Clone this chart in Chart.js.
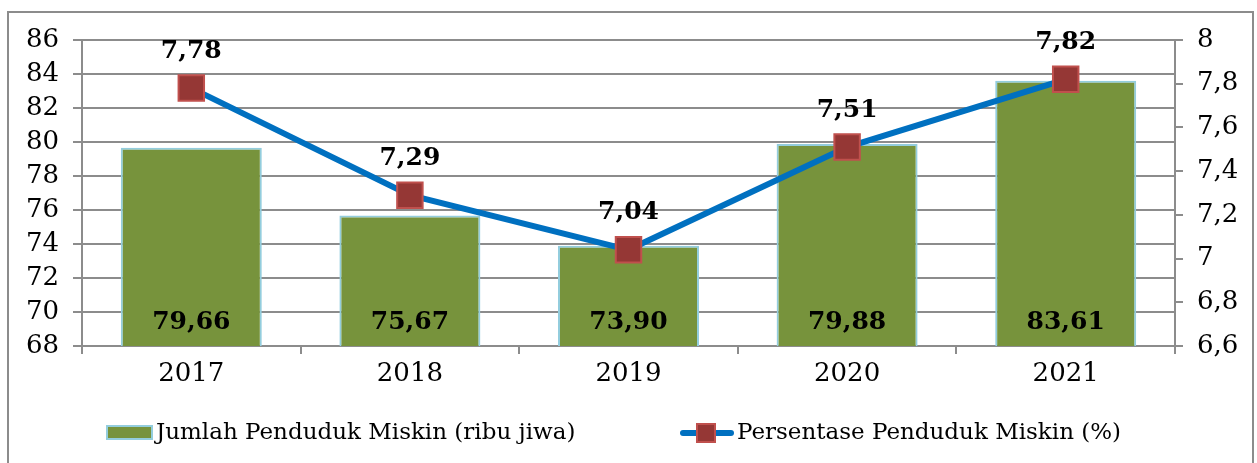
<!DOCTYPE html>
<html>
<head>
<meta charset="utf-8">
<script src="https://cdn.jsdelivr.net/npm/chart.js@4.4.1/dist/chart.umd.min.js"></script>
<style>
  html, body { margin: 0; padding: 0; background: #fff; overflow: hidden; }
  #wrap { position: relative; width: 1257px; height: 463px; }
  #frame { position: absolute; left: 7px; top: 11px; width: 1247px; height: 470px; border: 2px solid #8c8c8c; box-sizing: border-box; pointer-events: none; }
</style>
</head>
<body>
<div id="wrap">
  <canvas id="chart" width="1257" height="463"></canvas>
  <div id="frame"></div>
</div>
<script>
var years = ["2017", "2018", "2019", "2020", "2021"];
var jumlahMiskin = [79.66, 75.67, 73.90, 79.88, 83.61];
var persenMiskin = [7.78, 7.29, 7.04, 7.51, 7.82];
var leftTicks = [68, 70, 72, 74, 76, 78, 80, 82, 84, 86];
var rightTicks = [6.6, 6.8, 7, 7.2, 7.4, 7.6, 7.8, 8];

var FONT = "'DejaVu Serif', serif";

function koma(v, d) {
	return (d == null ? String(v) : v.toFixed(d)).replace(".", ",");
}

// labels on bars and points, plus the legend at the bottom
var labelPlugin = {
	id: "labelPlugin",
	afterDatasetsDraw: function (chart) {
		var ctx = chart.ctx;
		ctx.save();
		ctx.fillStyle = "#000";
		ctx.font = "bold 25px " + FONT;
		ctx.textAlign = "center";
		ctx.textBaseline = "middle";

		var bars = chart.getDatasetMeta(0).data;
		bars.forEach(function (el, i) {
			ctx.fillText(koma(jumlahMiskin[i], 2), el.x, 322);
		});

		var pts = chart.getDatasetMeta(1).data;
		pts.forEach(function (el, i) {
			ctx.fillText(koma(persenMiskin[i], 2), el.x, el.y - 37);
		});
		ctx.restore();
	},
	afterDraw: function (chart) {
		var ctx = chart.ctx;
		var ds = chart.data.datasets;
		ctx.save();
		ctx.font = "23px " + FONT;
		ctx.textBaseline = "middle";
		ctx.fillStyle = "#000";
		var y = 433;

		// bar legend
		ctx.fillStyle = ds[0].backgroundColor;
		ctx.fillRect(107, 426, 45, 13);
		ctx.strokeStyle = ds[0].borderColor;
		ctx.lineWidth = 2;
		ctx.strokeRect(107, 426, 45, 13);
		ctx.fillStyle = "#000";
		ctx.fillText(ds[0].label, 156, y);

		// line legend
		ctx.strokeStyle = ds[1].borderColor;
		ctx.lineWidth = 6;
		ctx.lineCap = "round";
		ctx.beginPath();
		ctx.moveTo(683, y);
		ctx.lineTo(731, y);
		ctx.stroke();
		ctx.fillStyle = ds[1].pointBackgroundColor;
		ctx.fillRect(697, 424, 18, 18);
		ctx.strokeStyle = ds[1].pointBorderColor;
		ctx.lineWidth = 2;
		ctx.strokeRect(697, 424, 18, 18);
		ctx.fillStyle = "#000";
		ctx.fillText(ds[1].label, 737, y);
		ctx.restore();
	}
};

var ctx = document.getElementById("chart");

var data = {
	labels: years,
	datasets: [{
			type: "bar",
			label: "Jumlah Penduduk Miskin (ribu jiwa)",
			data: jumlahMiskin,
			yAxisID: "y",
			backgroundColor: "#77933c",
			borderColor: "#93cddd",
			borderWidth: 2,
			categoryPercentage: 0.645,
			barPercentage: 1,
			order: 1
		},
		{
			type: "line",
			label: "Persentase Penduduk Miskin (%)",
			data: persenMiskin,
			yAxisID: "y1",
			borderColor: "#0070c0",
			borderWidth: 6,
			backgroundColor: "#0070c0",
			pointStyle: "rect",
			pointRadius: 18,
			pointBackgroundColor: "#953735",
			pointBorderColor: "#c0504d",
			pointBorderWidth: 2,
			tension: 0,
			order: 0
		}
	]
};

var tickFont = { family: FONT, size: 26 };

var options = {
	responsive: false,
	animation: false,
	layout: { padding: { top: 40, left: 0, right: 0, bottom: 0 } },
	plugins: {
		legend: { display: false },
		tooltip: { enabled: false }
	},
	scales: {
		x: {
			offset: true,
			grid: { offset: true, drawOnChartArea: false, color: "#8c8c8c", lineWidth: 2, tickLength: 8 },
			border: { color: "#8c8c8c", width: 2 },
			ticks: { color: "#000", font: tickFont, padding: 5 },
			afterFit: function (s) { s.height = 117; }
		},
		y: {
			position: "left",
			min: 68,
			max: 86,
			afterBuildTicks: function (s) { s.ticks = leftTicks.map(function (v) { return { value: v }; }); },
			grid: { color: "#8c8c8c", lineWidth: 2, tickLength: 9 },
			border: { color: "#8c8c8c", width: 2 },
			ticks: { color: "#000", font: tickFont, padding: 14, autoSkip: false },
			afterFit: function (s) { s.width = 82; }
		},
		y1: {
			position: "right",
			min: 6.6,
			max: 8,
			afterBuildTicks: function (s) { s.ticks = rightTicks.map(function (v) { return { value: v }; }); },
			grid: { drawOnChartArea: false, color: "#8c8c8c", lineWidth: 2, tickLength: 8 },
			border: { color: "#8c8c8c", width: 2 },
			ticks: {
				color: "#000",
				font: tickFont,
				padding: 14,
				autoSkip: false,
				callback: function (v) { return koma(Math.round(v * 10) / 10); }
			},
			afterFit: function (s) { s.width = 82; }
		}
	}
};

var chart = new Chart(ctx, {
	type: "bar",
	data: data,
	options: options,
	plugins: [labelPlugin]
});
</script>
</body>
</html>
